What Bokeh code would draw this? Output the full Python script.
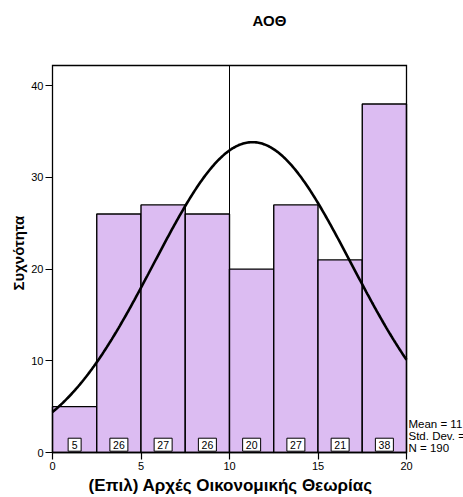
import numpy as np
from bokeh.plotting import figure
from bokeh.models import Range1d, FixedTicker, Label, Title
from bokeh.core.properties import value
from bokeh.embed import file_html
from bokeh.resources import INLINE

bin_left = [0, 2.5, 5, 7.5, 10, 12.5, 15, 17.5]
bin_right = [2.5, 5, 7.5, 10, 12.5, 15, 17.5, 20]
counts = [5, 26, 27, 26, 20, 27, 21, 38]
count_labels = ["5", "26", "27", "26", "20", "27", "21", "38"]
mean_val = 11.3
std_val = 5.6
n_total = 190
ref_line_x = 10
x_min, x_max = 0, 20
y_top = 42.2
x_ticks = [0, 5, 10, 15, 20]
y_ticks = [0, 10, 20, 30, 40]
stats_text = ["Mean = 11", "Std. Dev. =", "N = 190"]

FONT = "Liberation Sans"
BAR = "#dcbcf2"

# layout geometry (pixels)
W, H = 463, 497
frame_left, frame_bottom_px = 50, 454
x0_px, x20_px = 52, 406
y0_px, ytop_px = 452, 65
xscale = (x20_px - x0_px) / (x_max - x_min)
yscale = (y0_px - ytop_px) / y_top
xs_start = x_min - (x0_px - frame_left) / xscale
xs_end = xs_start + (W - frame_left) / xscale
ys_start = -(frame_bottom_px - y0_px) / yscale
ys_end = ys_start + frame_bottom_px / yscale

p = figure(width=W, height=H, output_backend="svg", toolbar_location=None,
           x_range=Range1d(xs_start, xs_end), y_range=Range1d(ys_start, ys_end),
           min_border_left=frame_left, min_border_right=0, min_border_top=0,
           min_border_bottom=H - frame_bottom_px)
p.grid.visible = False
p.outline_line_color = None
p.background_fill_color = "white"
p.border_fill_color = "white"

p.quad(left=bin_left, right=bin_right, bottom=0, top=counts,
       fill_color=BAR, line_color="black", line_width=1.4)

p.segment(x0=[ref_line_x], y0=[0], x1=[ref_line_x], y1=[y_top], line_color="black", line_width=1)

xs = np.linspace(x_min, x_max, 300)
bw = bin_right[0] - bin_left[0]
ys = n_total * bw / (std_val * np.sqrt(2 * np.pi)) * np.exp(-(xs - mean_val) ** 2 / (2 * std_val ** 2))
p.line(xs, ys, line_color="black", line_width=2.6)

# plot box
p.line(x=[x_min, x_max, x_max, x_min, x_min], y=[0, 0, y_top, y_top, 0],
       line_color="black", line_width=1.3, line_join="miter")

centers = [(a + b) / 2 for a, b in zip(bin_left, bin_right)]
widths = [13 if len(s) == 1 else 18 for s in count_labels]
p.rect(x=centers, y=[0.85] * len(centers), width=widths, height=[13] * len(centers),
       width_units="screen", height_units="screen",
       fill_color="white", line_color="black", line_width=1)
p.text(x=centers, y=[0.85] * len(centers), text=count_labels, text_align="center",
       text_baseline="middle", text_font=value(FONT), text_font_size="10.5px", text_color="black")

for ax in (p.xaxis, p.yaxis):
    ax.axis_line_color = None
    ax.major_tick_line_color = "black"
    ax.major_tick_line_width = 1.2
    ax.minor_tick_line_color = None
    ax.major_tick_in = 2
    ax.major_tick_out = 5
    ax.major_label_text_font = FONT
    ax.major_label_text_font_size = "11px"
    ax.major_label_text_color = "black"

p.xaxis.ticker = FixedTicker(ticks=x_ticks)
p.yaxis.ticker = FixedTicker(ticks=y_ticks)
p.xaxis.major_label_standoff = 2
p.yaxis.major_label_standoff = 2

ylab = Title(text="Συχνότητα", align="left", offset=frame_bottom_px - 290,
             text_font=FONT, text_font_size="15px", text_font_style="bold",
             text_color="black", standoff=4)
p.add_layout(ylab, "left")
xlab = Title(text="(Επιλ) Αρχές Οικονομικής Θεωρίας", align="left", offset=88 - frame_left,
             text_font=FONT, text_font_size="17px", text_font_style="bold",
             text_color="black", standoff=2)
p.add_layout(xlab, "below")

p.add_layout(Label(x=269 - frame_left, y=frame_bottom_px - 20, x_units="screen", y_units="screen",
                   text="ΑΟΘ", text_font=FONT, text_font_size="15px", text_font_style="bold",
                   text_color="black", text_align="center", text_baseline="middle"))

for i, t in enumerate(stats_text):
    p.add_layout(Label(x=408 - frame_left, y=frame_bottom_px - (423 + 12 * i),
                       x_units="screen", y_units="screen", text=t,
                       text_font=FONT, text_font_size="11.5px", text_color="black",
                       text_baseline="middle"))

open("out.html", "w").write(file_html(p, INLINE))
